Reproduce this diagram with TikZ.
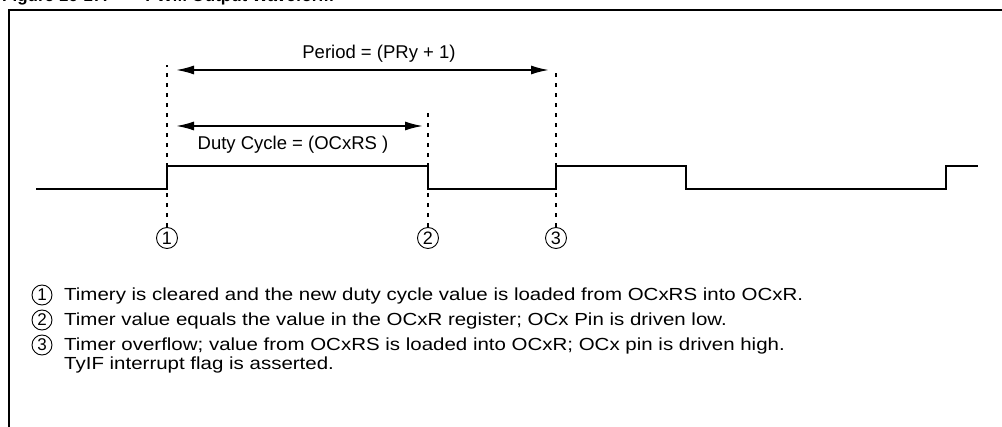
\documentclass[tikz,border=0pt]{standalone}
\usepackage{fontspec}
\setmainfont{Liberation Sans}
\newfontfamily\widesans[FakeStretch=1.17]{Liberation Sans}
\usetikzlibrary{arrows.meta}
\begin{document}
\begin{tikzpicture}[x=1pt,y=-1pt,
  wave/.style={line width=2.4pt},
  frame/.style={line width=2.6pt},
  guide/.style={line width=1.6pt, dash pattern=on 4pt off 6pt},
  dim/.style={line width=1.8pt, {Latex[length=18pt,width=9pt]}-{Latex[length=18pt,width=9pt]}},
  num/.style={circle, draw, line width=0.9pt, minimum size=21pt, inner sep=0pt,
              font=\fontsize{18}{18}\selectfont},
  lbl/.style={font=\fontsize{18.5}{20}\selectfont, inner sep=0pt},
  note/.style={font=\widesans\fontsize{17.5}{20}\selectfont, inner sep=0pt, anchor=base west},
]
\useasboundingbox (0,0) rectangle (1002,427);

% figure title (runs off the top of the page)
\node[anchor=base west, inner sep=0pt, font=\bfseries\fontsize{17}{17}\selectfont]
  (title) at (2,2) {Figure 16-17:\hspace{2.2em}PWM Output Waveform};

% frame
\draw[frame] (9,427) |- (1002,10);

% event markers under the waveform
\node[num] (c1) at (167,238) {1};
\node[num] (c2) at (428,238) {2};
\node[num] (c3) at (556,238) {3};

% top ends of the guide lines
\coordinate (t1) at (167,65);
\coordinate (t2) at (428,109);
\coordinate (t3) at (556,71);

\draw[guide] (c1.north) -- (t1);
\draw[guide] (c2.north) -- (t2);
\draw[guide] (c3.north) -- (t3);

% PWM output waveform
\coordinate (w0) at (36,189);
\coordinate (w1) at (978,166);
\draw[wave] (w0) -- (167,189) -- (167,166) -- (428,166) -- (428,189)
  -- (556,189) -- (556,166) -- (686,166) -- (686,189) -- (946,189)
  -- (946,166) -- (w1);

% period and duty cycle dimensions
\coordinate (pa) at (176,70);
\coordinate (pb) at (549,70);
\coordinate (da) at (176,126);
\coordinate (db) at (423,126);
\draw[dim] (pa) -- (pb);
\draw[dim] (da) -- (db);
\node[lbl, anchor=base] (plabel) at (379,59) {Period = (PRy + 1)};
\node[lbl, anchor=base] (dlabel) at (293,150) {Duty Cycle = (OCxRS )};

% legend
\node[num, minimum size=20pt, font=\fontsize{17}{17}\selectfont] (l1) at (42,295) {1};
\node[num, minimum size=20pt, font=\fontsize{17}{17}\selectfont] (l2) at (42,320) {2};
\node[num, minimum size=20pt, font=\fontsize{17}{17}\selectfont] (l3) at (42,345) {3};
\node[note] (d1) at (64,301)
  {Timery is cleared and the new duty cycle value is loaded from OCxRS into OCxR.};
\node[note] (d2) at (64,326)
  {Timer value equals the value in the OCxR register; OCx Pin is driven low.};
\node[note] (d3) at (64,351)
  {Timer overflow; value from OCxRS is loaded into OCxR; OCx pin is driven high.};
\node[note] (d4) at (64,370)
  {TyIF interrupt flag is asserted.};
\end{tikzpicture}
\end{document}
